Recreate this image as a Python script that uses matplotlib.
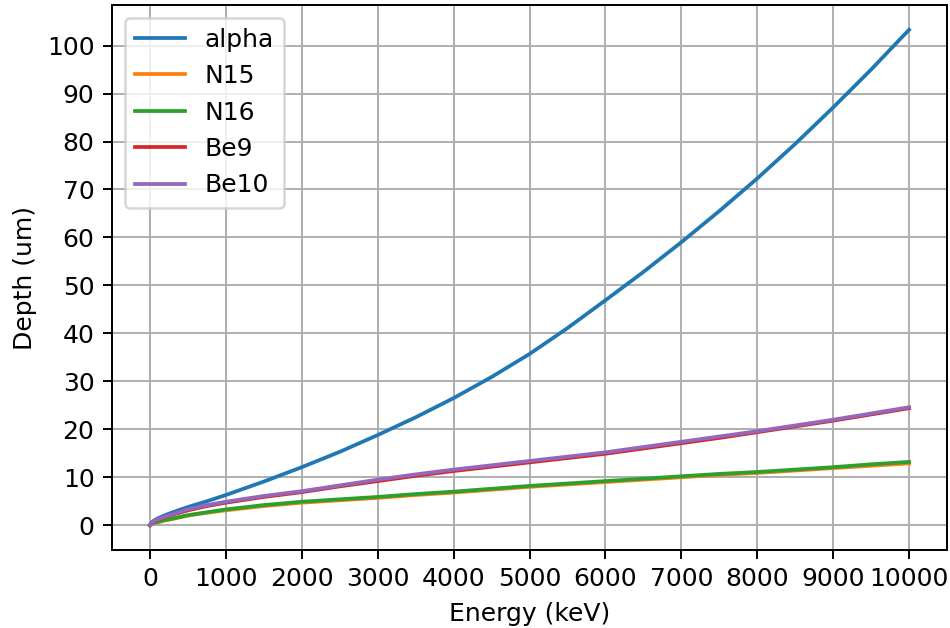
import matplotlib
matplotlib.use("Agg")
import matplotlib.pyplot as plt

energy_kev = [0, 25, 50, 100, 200, 300, 500, 750, 1000, 1500, 2000, 2500, 3000, 3500, 4000,
              4500, 5000, 5500, 6000, 6500, 7000, 7500, 8000, 8500, 9000, 9500, 10000]

depth_alpha = [0.0, 0.6, 0.95, 1.4, 2.1, 2.7, 3.8, 5.0, 6.3, 9.1, 12.1, 15.3, 18.8, 22.5, 26.5,
               30.9, 35.7, 41.1, 46.9, 52.8, 59.0, 65.5, 72.3, 79.5, 87.1, 95.0, 103.3]
depth_n15 = [0.0, 0.3, 0.45, 0.6, 1.0, 1.3, 2.0, 2.6, 3.1, 4.0, 4.7, 5.2, 5.7, 6.3, 6.8,
             7.4, 8.0, 8.5, 9.0, 9.5, 10.0, 10.5, 10.9, 11.4, 11.9, 12.4, 12.9]
depth_n16 = [0.0, 0.35, 0.5, 0.7, 1.1, 1.4, 2.1, 2.7, 3.3, 4.2, 4.9, 5.4, 5.9, 6.5, 7.0,
             7.6, 8.2, 8.7, 9.2, 9.7, 10.2, 10.7, 11.1, 11.6, 12.1, 12.7, 13.2]
depth_be9 = [0.0, 0.5, 0.8, 1.1, 1.7, 2.2, 3.1, 4.0, 4.7, 5.9, 6.9, 8.1, 9.2, 10.3, 11.3,
             12.2, 13.1, 14.0, 14.9, 16.0, 17.1, 18.2, 19.4, 20.6, 21.8, 23.1, 24.4]
depth_be10 = [0.0, 0.55, 0.85, 1.2, 1.8, 2.3, 3.3, 4.2, 4.9, 6.1, 7.1, 8.3, 9.5, 10.6, 11.6,
              12.5, 13.4, 14.3, 15.2, 16.3, 17.4, 18.5, 19.6, 20.8, 22.0, 23.3, 24.6]

series = [
    ("alpha", depth_alpha),
    ("N15", depth_n15),
    ("N16", depth_n16),
    ("Be9", depth_be9),
    ("Be10", depth_be10),
]

DPI = 180
fig = plt.figure(figsize=(950 / DPI, 628 / DPI), dpi=DPI)
ax = fig.add_axes([112 / 950, 1 - 550 / 628, (947 - 112) / 950, (550 - 5) / 628])

for name, depth in series:
    ax.plot(energy_kev, depth, label=name)

ax.set_xticks(range(0, 10001, 1000))
ax.set_yticks(range(0, 101, 10))
ax.set_xlabel("Energy (keV)")
ax.set_ylabel("Depth (um)")
ax.grid(True)
ax.legend(loc="upper left")

fig.savefig("out.png", dpi=DPI)
